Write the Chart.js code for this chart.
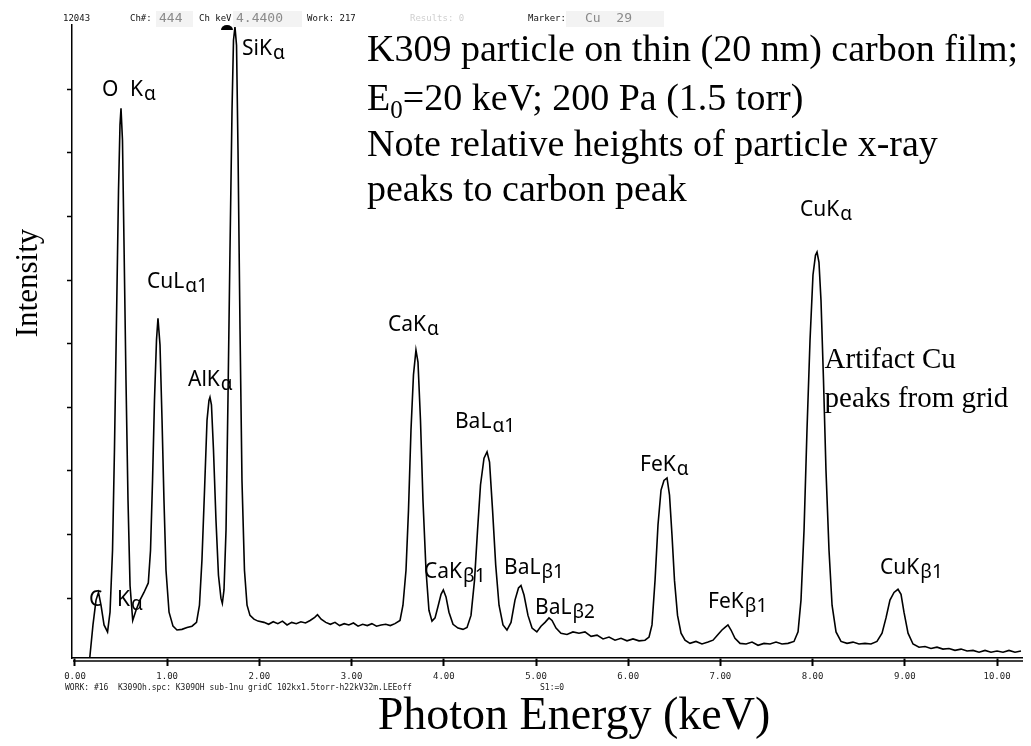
<!DOCTYPE html>
<html>
<head>
<meta charset="utf-8">
<script src="https://cdn.jsdelivr.net/npm/chart.js@4.4.1/dist/chart.umd.min.js"></script>
<style>
  html, body { margin: 0; padding: 0; background: #fff; }
</style>
</head>
<body>
<canvas id="spectrum" width="1031" height="746"></canvas>
<script>
// spectrum: energy in keV, intensity in counts (one y tick = 100)
const energy = [
  0.16, 0.195, 0.228, 0.255, 0.282, 0.315, 0.353, 0.38, 0.407, 0.428, 0.45, 0.472, 0.488, 0.499, 0.515, 0.531, 0.553, 0.575, 0.597, 0.626,
  0.662, 0.705, 0.748, 0.795, 0.819, 0.841, 0.862, 0.884, 0.90, 0.922, 0.944, 0.965, 0.987, 1.02, 1.063, 1.106, 1.16, 1.215, 1.269, 1.318,
  1.35, 1.377, 1.405, 1.432, 1.453, 1.464, 1.48, 1.502, 1.529, 1.556, 1.583, 1.598, 1.616, 1.638, 1.659, 1.681, 1.703, 1.719, 1.735, 1.752,
  1.768, 1.79, 1.811, 1.838, 1.866, 1.898, 1.941, 1.985,
  2.05, 2.10, 2.15, 2.20, 2.25, 2.30, 2.35, 2.40, 2.45, 2.50, 2.55, 2.60, 2.63, 2.67, 2.72, 2.77, 2.82, 2.87, 2.92, 2.97,
  3.02, 3.07, 3.12, 3.17, 3.22, 3.27, 3.32, 3.37, 3.42, 3.47,
  3.525, 3.557, 3.59, 3.617, 3.644, 3.671, 3.698, 3.72, 3.747, 3.774, 3.807, 3.839, 3.872, 3.905, 3.937, 3.97, 3.995, 4.024, 4.056, 4.10,
  4.154, 4.208, 4.252, 4.295, 4.333, 4.366, 4.398, 4.436, 4.469, 4.496, 4.529, 4.563, 4.599, 4.642, 4.685, 4.729, 4.772, 4.81, 4.837, 4.87,
  4.913, 4.957, 5.009, 5.054, 5.098, 5.141, 5.174, 5.217, 5.271, 5.336, 5.401, 5.466, 5.531, 5.597, 5.662, 5.727, 5.792, 5.857, 5.922, 5.987,
  6.052, 6.117, 6.182, 6.226, 6.258, 6.291, 6.323, 6.356, 6.388, 6.421, 6.448, 6.475, 6.502, 6.535, 6.573, 6.616, 6.67, 6.735, 6.80, 6.866,
  6.92, 6.974, 7.017, 7.05, 7.082, 7.115, 7.158, 7.213, 7.278, 7.343, 7.408, 7.473, 7.538, 7.603, 7.668, 7.733, 7.798, 7.842, 7.874, 7.907,
  7.939, 7.972, 8.004, 8.031, 8.048, 8.069, 8.091, 8.118, 8.145, 8.178, 8.211, 8.254, 8.308, 8.373, 8.438, 8.503, 8.568, 8.633, 8.698, 8.753,
  8.796, 8.839, 8.883, 8.926, 8.959, 8.991, 9.035, 9.089, 9.154, 9.219, 9.284, 9.349, 9.414, 9.479, 9.544, 9.61, 9.675, 9.74, 9.805, 9.87,
  9.935, 10.0, 10.065, 10.13, 10.195, 10.26
]
const counts = [
  6, 58, 97, 109, 89, 58, 47, 78, 175, 333, 537, 741, 844, 870, 820, 663, 443, 254, 120, 65,
  81, 97, 109, 124, 175, 285, 411, 506, 540, 498, 380, 254, 144, 78, 56, 50, 51, 54, 56, 62,
  89, 160, 270, 380, 411, 416, 404, 333, 223, 136, 100, 92, 113, 207, 411, 647, 867, 977, 998, 969,
  804, 521, 285, 144, 89, 73, 67, 64,
  62, 59, 63, 60, 64, 58, 62, 60, 63, 61, 65, 70, 74, 67, 62, 59, 62, 57, 60, 58,
  61, 56, 59, 57, 60, 56, 58, 59, 57, 60,
  65, 89, 144, 238, 364, 451, 490, 471, 380, 254, 144, 81, 64, 69, 87, 106, 113, 102, 78, 59,
  53, 51, 54, 73, 128, 207, 278, 320, 330, 314, 238, 152, 89, 58, 50, 62, 97, 116, 120, 105,
  73, 53, 47, 56, 62, 69, 65, 53, 45, 43, 47, 45, 47, 40, 42, 36, 39, 34, 37, 33,
  36, 33, 34, 39, 58, 128, 215, 270, 285, 289, 262, 199, 128, 73, 45, 34, 29, 32, 28, 31,
  34, 43, 50, 54, 58, 50, 37, 29, 28, 31, 26, 29, 28, 31, 28, 29, 32, 47, 97, 207,
  364, 506, 608, 639, 644, 628, 568, 443, 301, 175, 89, 47, 32, 29, 31, 28, 29, 28, 32, 45,
  69, 97, 109, 114, 106, 78, 45, 28, 23, 24, 21, 23, 20, 21, 18, 20, 17, 18, 15, 18,
  15, 17, 15, 18, 15, 17
]

const xTicks = [0, 1, 2, 3, 4, 5, 6, 7, 8, 9, 10]
const yTicks = [100, 200, 300, 400, 500, 600, 700, 800, 900]

// peak labels: text, left edge (keV), middle of the capitals (counts)
const peakText   = ['C', 'Kα', 'O', 'Kα', 'SiKα', 'CuLα1', 'AlKα', 'CaKα', 'CaKβ1', 'BaLα1', 'BaLβ1', 'BaLβ2', 'FeKα', 'FeKβ1', 'CuKα', 'CuKβ1']
const peakEnergy = [0.152, 0.456, 0.293, 0.597, 1.811, 0.781, 1.226, 3.395, 3.785, 4.121, 4.653, 4.989, 6.128, 6.866, 7.863, 8.731]
const peakCounts = [100, 100, 902, 902, 966, 600, 446, 532, 144, 380, 150, 87, 312, 97, 713, 150]

const noteLines = [
  'K309 particle on thin (20 nm) carbon film;',
  'E|0|=20 keV; 200 Pa (1.5 torr)',
  'Note relative heights of particle x-ray',
  'peaks to carbon peak'
]
const artifactLines = ['Artifact Cu', 'peaks from grid']

const header = [
  { text: '12043', x: 63 },
  { text: 'Ch#:', x: 130 },
  { text: '444', x: 159, box: [156, 193] },
  { text: 'Ch keV:', x: 199 },
  { text: '4.4400', x: 236, box: [233, 302] },
  { text: 'Work: 217', x: 307 },
  { text: 'Results: 0', x: 410, light: true },
  { text: 'Marker:', x: 528 },
  { text: 'Cu  29', x: 585, box: [566, 664] }
]
const footer = [
  { text: 'WORK: #16  K309Oh.spc: K309OH sub-1nu gridC 102kx1.5torr-h22kV32m.LEEoff', x: 65 },
  { text: 'S1:=0', x: 540 }
]

function drawPeakLabel(ctx, text, x, y) {
  const cut = text.search(/[αβ]/)
  const head = cut < 0 ? text : text.slice(0, cut)
  const tail = cut < 0 ? '' : text.slice(cut)
  ctx.font = '21px "Noto Sans"'
  ctx.fillText(head, x, y + 8)
  const w = ctx.measureText(head).width
  ctx.font = '19px "Noto Sans"'
  ctx.fillText(tail, x + w + 1, y + 12)
}

const decorations = {
  id: 'decorations',
  afterDraw(chart) {
    const ctx = chart.ctx
    const xs = chart.scales.x
    const ys = chart.scales.y
    const area = chart.chartArea
    ctx.save()

    // second line of the energy axis
    ctx.strokeStyle = '#000'
    ctx.lineWidth = 1.5
    ctx.beginPath()
    ctx.moveTo(area.left + 1, area.bottom + 3)
    ctx.lineTo(area.right + 1, area.bottom + 3)
    ctx.stroke()

    // header bar
    ctx.textBaseline = 'middle'
    ctx.textAlign = 'left'
    header.forEach(h => {
      if (h.box) {
        ctx.fillStyle = '#f3f3f3'
        ctx.fillRect(h.box[0], 11, h.box[1] - h.box[0], 16)
        ctx.fillStyle = '#8a8a8a'
        ctx.font = '13px "DejaVu Sans Mono"'
      } else {
        ctx.fillStyle = h.light ? '#cfcfcf' : '#111'
        ctx.font = '9px "DejaVu Sans Mono"'
      }
      ctx.fillText(h.text, h.x, 19)
    })
    // cursor marker on the Si peak
    ctx.fillStyle = '#000'
    ctx.beginPath()
    ctx.ellipse(227, 30, 6, 5, 0, Math.PI, 2 * Math.PI)
    ctx.fill()

    // footer line
    ctx.fillStyle = '#222'
    ctx.font = '8px "DejaVu Sans Mono"'
    footer.forEach(f => ctx.fillText(f.text, f.x, 688))

    // peak labels, placed through the scales
    ctx.fillStyle = '#000'
    ctx.textBaseline = 'alphabetic'
    peakText.forEach((t, i) => {
      drawPeakLabel(ctx, t, xs.getPixelForValue(peakEnergy[i]), ys.getPixelForValue(peakCounts[i]))
    })

    // description block
    const serif = '"Liberation Serif", "Times New Roman", serif'
    noteLines.forEach((line, i) => {
      const y = [61, 110, 156, 201][i]
      const parts = line.split('|')
      let x = 367
      parts.forEach((p, k) => {
        if (k === 1) {
          ctx.font = '25px ' + serif
          ctx.fillText(p, x, y + 8)
        } else {
          ctx.font = '38px ' + serif
          ctx.fillText(p, x, y)
        }
        x += ctx.measureText(p).width
      })
    })

    ctx.font = '29px ' + serif
    artifactLines.forEach((line, i) => {
      ctx.fillText(line, xs.getPixelForValue(8.13), ys.getPixelForValue(477) + 10 + i * 39)
    })

    // axis titles
    ctx.textAlign = 'center'
    ctx.textBaseline = 'middle'
    ctx.font = '46px ' + serif
    ctx.fillText('Photon Energy (keV)', 574, 717)
    ctx.translate(29, 283)
    ctx.rotate(-Math.PI / 2)
    ctx.font = '31px ' + serif
    ctx.fillText('Intensity', 0, 0)
    ctx.restore()
  }
}

new Chart('spectrum', {
  type: 'line',
  data: {
    datasets: [{
      label: 'K309 spectrum',
      data: energy.map((e, i) => ({ x: e, y: counts[i] })),
      borderColor: '#000',
      borderWidth: 1.6,
      pointRadius: 0,
      tension: 0,
      fill: false,
      clip: false
    }]
  },
  options: {
    responsive: false,
    animation: false,
    layout: { padding: { top: 25, right: 9, left: 0, bottom: 0 } },
    plugins: {
      legend: { display: false },
      tooltip: { enabled: false }
    },
    scales: {
      x: {
        type: 'linear',
        min: -0.0325,
        max: 10.271,
        afterFit: scale => { scale.height = 88 },
        afterBuildTicks: scale => { scale.ticks = xTicks.map(v => ({ value: v })) },
        grid: { drawOnChartArea: false, tickLength: 8, tickWidth: 2, tickColor: '#000' },
        border: { color: '#000', width: 1.5 },
        ticks: {
          autoSkip: false,
          maxRotation: 0,
          padding: 5,
          color: '#222',
          font: { family: 'DejaVu Sans Mono', size: 9 },
          callback: v => v.toFixed(2)
        }
      },
      y: {
        min: 6,
        max: 1001,
        afterFit: scale => { scale.width = 72 },
        afterBuildTicks: scale => { scale.ticks = yTicks.map(v => ({ value: v })) },
        grid: { drawOnChartArea: false, tickLength: 5, tickWidth: 1.5, tickColor: '#000' },
        border: { color: '#000', width: 1.5 },
        ticks: { display: false }
      }
    }
  },
  plugins: [decorations]
})
</script>
</body>
</html>
